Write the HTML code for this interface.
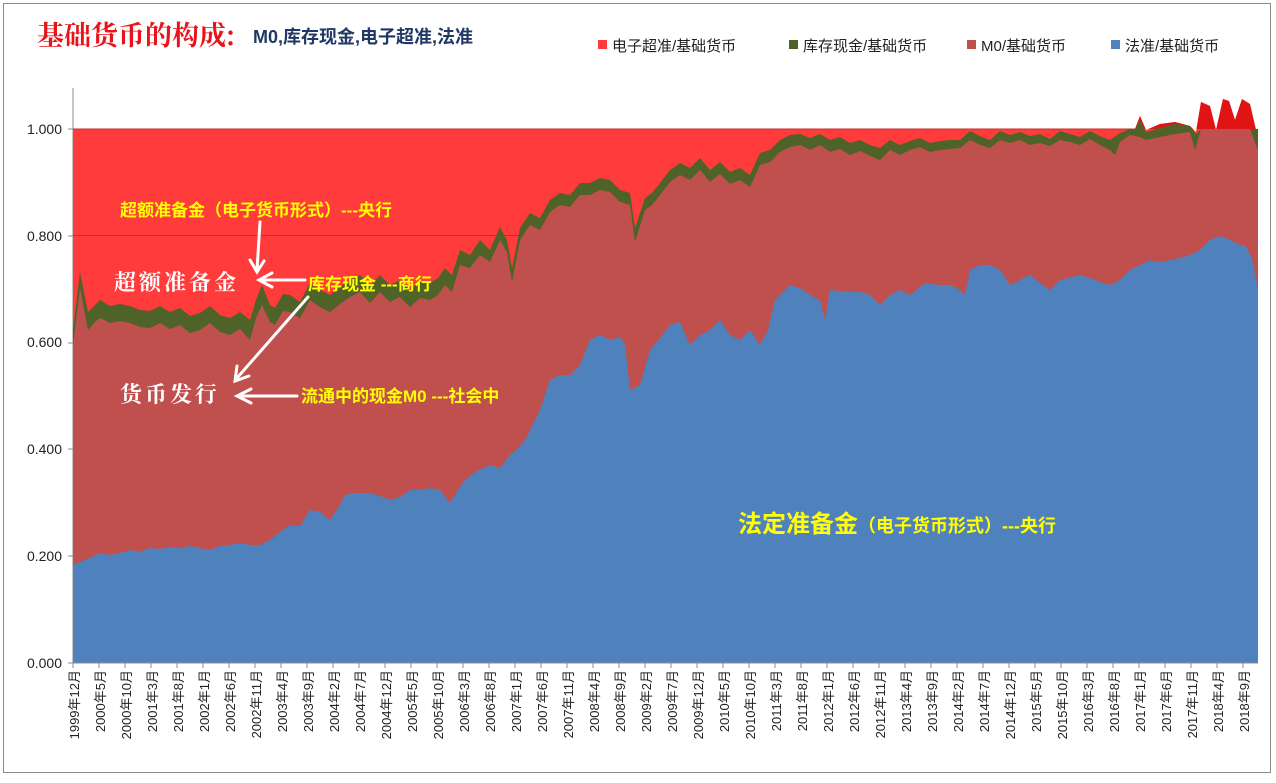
<!DOCTYPE html>
<html><head><meta charset="utf-8"><style>
html,body{margin:0;padding:0;background:#fff;}
svg{display:block;font-family:"Liberation Sans","Noto Sans CJK SC",sans-serif;}
</style></head><body>
<svg width="1276" height="783" xmlns="http://www.w3.org/2000/svg">
<rect x="3.5" y="3.5" width="1267" height="769" fill="#fff" stroke="#8c8c8c" stroke-width="1"/>
<text x="37" y="45" font-size="27" fill="#e8141a" font-family="'Noto Serif CJK SC',serif" font-weight="bold">基础货币的构成:</text>
<text x="253" y="43" font-size="18" fill="#1f3864" font-weight="bold">M0,库存现金,电子超准,法准</text>
<g font-size="15" fill="#222">
<rect x="598" y="40" width="9" height="9" fill="#ff3b3b"/><text x="612" y="51">电子超准/基础货币</text>
<rect x="789" y="40" width="9" height="9" fill="#4f6228"/><text x="803" y="51">库存现金/基础货币</text>
<rect x="967" y="40" width="9" height="9" fill="#c0504d"/><text x="981" y="51">M0/基础货币</text>
<rect x="1111" y="40" width="9" height="9" fill="#4f81bd"/><text x="1125" y="51">法准/基础货币</text>
</g>
<defs><clipPath id="above"><rect x="0" y="0" width="1276" height="129"/></clipPath></defs>
<line x1="73" y1="88" x2="73" y2="663" stroke="#8c8c8c"/>

<path id="red" d="M73,663 L73,129 L1135,129 L1140,116 L1146,130 L1160,124 L1175,122 L1190,126 L1196,132 L1201,102 L1210,106 L1216,130 L1223,99 L1229,101 L1235,120 L1242,99 L1250,104 L1256,130 L1258,150 L1258,663 Z" fill="#ff3b3b"/>
<path d="M73,663 L73,129 L1135,129 L1140,116 L1146,130 L1160,124 L1175,122 L1190,126 L1196,132 L1201,102 L1210,106 L1216,130 L1223,99 L1229,101 L1235,120 L1242,99 L1250,104 L1256,130 L1258,150 L1258,663 Z" fill="#e01414" clip-path="url(#above)"/>
<line x1="73" y1="235.5" x2="1258" y2="235.5" stroke="#c0302c" stroke-width="1"/>
<line x1="73" y1="129" x2="1135" y2="129" stroke="#c0302c" stroke-width="1"/>

<path d="M73,663 L73,330 L80,272 L88,312 L95,305 L100,300 L110,306 L120,304 L130,306 L140,310 L150,311 L160,306 L170,312 L180,308 L190,316 L200,313 L210,306 L220,315 L230,318 L240,312 L250,320 L256,300 L262,285 L270,305 L275,308 L283,294 L290,295 L300,302 L310,283 L320,290 L330,295 L340,287 L350,280 L360,275 L370,286 L380,275 L390,285 L400,280 L410,290 L420,281 L430,283 L438,278 L445,268 L452,275 L460,250 L470,255 L480,240 L490,250 L500,227 L507,240 L512,268 L520,228 L530,213 L540,218 L550,200 L560,193 L570,195 L580,183 L590,183 L600,178 L610,180 L620,190 L630,193 L635,228 L645,198 L652,193 L660,183 L670,170 L680,163 L690,168 L700,158 L710,170 L720,162 L730,172 L740,168 L750,175 L760,153 L770,150 L780,140 L790,135 L800,134 L810,138 L820,134 L830,140 L840,137 L850,143 L860,140 L870,145 L880,148 L890,140 L900,145 L910,141 L920,138 L930,143 L940,141 L950,140 L960,140 L970,131 L980,136 L990,140 L1000,131 L1010,135 L1020,132 L1030,136 L1040,134 L1050,139 L1060,131 L1070,134 L1080,137 L1090,131 L1100,136 L1110,140 L1120,133 L1130,129 L1135,129 L1140,120 L1146,132 L1160,128 L1175,124 L1190,126 L1196,134 L1201,129 L1258,129 L1258,150 L1258,663 Z" fill="#4f6228"/>

<path d="M73,663 L73,345 L80,288 L88,330 L95,322 L100,318 L110,323 L120,321 L130,323 L140,327 L150,328 L160,323 L170,329 L180,325 L190,333 L200,330 L210,323 L220,332 L230,335 L240,329 L250,340 L256,318 L262,305 L270,322 L275,325 L283,311 L290,312 L300,318 L310,300 L320,307 L330,312 L340,304 L350,297 L360,292 L370,303 L380,292 L390,302 L400,297 L410,307 L420,298 L430,300 L438,295 L445,285 L452,292 L460,265 L470,268 L480,255 L490,262 L500,240 L507,252 L512,282 L520,240 L530,225 L540,230 L550,212 L560,205 L570,207 L580,195 L590,195 L600,190 L610,192 L620,202 L630,205 L635,242 L645,210 L652,205 L660,195 L670,182 L680,175 L690,180 L700,170 L710,182 L720,174 L730,184 L740,180 L750,187 L760,165 L770,162 L780,152 L790,147 L800,145 L810,150 L820,145 L830,152 L840,149 L850,155 L860,151 L870,156 L880,160 L890,150 L900,155 L910,150 L920,147 L930,152 L940,150 L950,149 L960,148 L970,140 L980,145 L990,148 L1000,140 L1010,143 L1020,140 L1030,145 L1040,143 L1050,146 L1060,140 L1070,142 L1080,145 L1090,139 L1100,145 L1110,150 L1115,155 L1120,142 L1130,135 L1140,137 L1146,140 L1160,137 L1175,134 L1190,132 L1195,150 L1201,129 L1250,129 L1258,150 L1258,663 Z" fill="#c0504d"/>

<path d="M73,663 L73,565 L80,562 L90,558 L100,553 L110,555 L120,553 L130,550 L140,552 L150,548 L160,549 L170,547 L180,548 L190,546 L200,548 L210,550 L220,546 L230,545 L240,543 L250,545 L260,545 L270,540 L280,532 L290,525 L300,526 L310,510 L320,512 L330,520 L340,505 L345,495 L355,493 L370,493 L380,496 L390,500 L400,497 L410,490 L420,490 L430,488 L440,490 L450,503 L458,490 L465,480 L475,472 L490,465 L500,468 L510,455 L518,448 L525,440 L530,430 L540,410 L550,380 L560,375 L570,375 L580,365 L590,340 L600,335 L610,340 L620,337 L625,345 L630,390 L640,385 L650,350 L660,338 L670,325 L680,322 L690,345 L700,335 L710,330 L720,320 L730,335 L740,340 L750,330 L760,345 L768,330 L775,300 L790,285 L800,288 L810,295 L820,300 L825,320 L830,290 L840,291 L860,292 L870,295 L880,305 L890,295 L900,290 L910,295 L925,283 L940,285 L950,285 L960,290 L965,295 L970,270 L980,265 L990,265 L1000,270 L1010,285 L1020,280 L1030,275 L1040,283 L1050,290 L1060,280 L1080,275 L1090,278 L1100,282 L1110,285 L1120,280 L1130,270 L1140,265 L1150,260 L1160,262 L1170,260 L1180,258 L1190,255 L1200,250 L1210,240 L1220,236 L1230,240 L1240,245 L1245,245 L1252,258 L1258,290 L1258,663 Z" fill="#4f81bd"/>

<line x1="68" y1="663" x2="1258" y2="663" stroke="#8c8c8c"/>
<g font-size="14" fill="#222" text-anchor="end">
<text x="62" y="668">0.000</text><text x="62" y="561">0.200</text><text x="62" y="454">0.400</text><text x="62" y="347">0.600</text><text x="62" y="241">0.800</text><text x="62" y="134">1.000</text>
</g>
<path d="M68,663h5M68,556h5M68,449h5M68,343h5M68,236h5M68,129h5" stroke="#8c8c8c"/>
<path d="M73,663v5M99,663v5M125,663v5M151,663v5M177,663v5M203,663v5M229,663v5M255,663v5M281,663v5M307,663v5M333,663v5M359,663v5M385,663v5M411,663v5M437,663v5M463,663v5M489,663v5M515,663v5M541,663v5M567,663v5M593,663v5M619,663v5M645,663v5M671,663v5M697,663v5M723,663v5M749,663v5M775,663v5M801,663v5M827,663v5M853,663v5M879,663v5M905,663v5M931,663v5M957,663v5M983,663v5M1009,663v5M1035,663v5M1061,663v5M1087,663v5M1113,663v5M1139,663v5M1165,663v5M1191,663v5M1217,663v5M1243,663v5" stroke="#8c8c8c"/>
<g font-size="13" fill="#222" text-anchor="end">
<text transform="translate(79,670) rotate(-90)">1999年12月</text>
<text transform="translate(105,670) rotate(-90)">2000年5月</text>
<text transform="translate(131,670) rotate(-90)">2000年10月</text>
<text transform="translate(157,670) rotate(-90)">2001年3月</text>
<text transform="translate(183,670) rotate(-90)">2001年8月</text>
<text transform="translate(209,670) rotate(-90)">2002年1月</text>
<text transform="translate(235,670) rotate(-90)">2002年6月</text>
<text transform="translate(261,670) rotate(-90)">2002年11月</text>
<text transform="translate(287,670) rotate(-90)">2003年4月</text>
<text transform="translate(313,670) rotate(-90)">2003年9月</text>
<text transform="translate(339,670) rotate(-90)">2004年2月</text>
<text transform="translate(365,670) rotate(-90)">2004年7月</text>
<text transform="translate(391,670) rotate(-90)">2004年12月</text>
<text transform="translate(417,670) rotate(-90)">2005年5月</text>
<text transform="translate(443,670) rotate(-90)">2005年10月</text>
<text transform="translate(469,670) rotate(-90)">2006年3月</text>
<text transform="translate(495,670) rotate(-90)">2006年8月</text>
<text transform="translate(521,670) rotate(-90)">2007年1月</text>
<text transform="translate(547,670) rotate(-90)">2007年6月</text>
<text transform="translate(573,670) rotate(-90)">2007年11月</text>
<text transform="translate(599,670) rotate(-90)">2008年4月</text>
<text transform="translate(625,670) rotate(-90)">2008年9月</text>
<text transform="translate(651,670) rotate(-90)">2009年2月</text>
<text transform="translate(677,670) rotate(-90)">2009年7月</text>
<text transform="translate(703,670) rotate(-90)">2009年12月</text>
<text transform="translate(729,670) rotate(-90)">2010年5月</text>
<text transform="translate(755,670) rotate(-90)">2010年10月</text>
<text transform="translate(781,670) rotate(-90)">2011年3月</text>
<text transform="translate(807,670) rotate(-90)">2011年8月</text>
<text transform="translate(833,670) rotate(-90)">2012年1月</text>
<text transform="translate(859,670) rotate(-90)">2012年6月</text>
<text transform="translate(885,670) rotate(-90)">2012年11月</text>
<text transform="translate(911,670) rotate(-90)">2013年4月</text>
<text transform="translate(937,670) rotate(-90)">2013年9月</text>
<text transform="translate(963,670) rotate(-90)">2014年2月</text>
<text transform="translate(989,670) rotate(-90)">2014年7月</text>
<text transform="translate(1015,670) rotate(-90)">2014年12月</text>
<text transform="translate(1041,670) rotate(-90)">2015年5月</text>
<text transform="translate(1067,670) rotate(-90)">2015年10月</text>
<text transform="translate(1093,670) rotate(-90)">2016年3月</text>
<text transform="translate(1119,670) rotate(-90)">2016年8月</text>
<text transform="translate(1145,670) rotate(-90)">2017年1月</text>
<text transform="translate(1171,670) rotate(-90)">2017年6月</text>
<text transform="translate(1197,670) rotate(-90)">2017年11月</text>
<text transform="translate(1223,670) rotate(-90)">2018年4月</text>
<text transform="translate(1249,670) rotate(-90)">2018年9月</text>
</g>
<g font-weight="bold" fill="#ffff00" font-size="17">
<text x="120" y="216">超额准备金（电子货币形式）---央行</text>
<text x="308" y="290">库存现金 ---商行</text>
<text x="301" y="402">流通中的现金M0 ---社会中</text>
<text x="738" y="532" font-size="24">法定准备金<tspan font-size="18">（电子货币形式）---央行</tspan></text>
</g>
<g font-weight="bold" fill="#fff" font-size="22" font-family="'Noto Serif CJK SC',serif" letter-spacing="3">
<text x="114" y="290">超额准备金</text>
<text x="120" y="402">货币发行</text>
</g>
<g stroke="#fff" stroke-width="3" fill="none" stroke-linecap="round">
<line x1="260" y1="222" x2="257" y2="270"/><polyline points="250,260 257,272 264,261"/>
<line x1="305" y1="280" x2="262" y2="280"/><polyline points="272,273 259,280 272,287"/>
<line x1="308" y1="297" x2="237" y2="378"/><polyline points="237,366 235,381 249,376"/>
<line x1="297" y1="396" x2="240" y2="396"/><polyline points="251,389 237,396 251,403"/>
</g>
</svg>
</body></html>
